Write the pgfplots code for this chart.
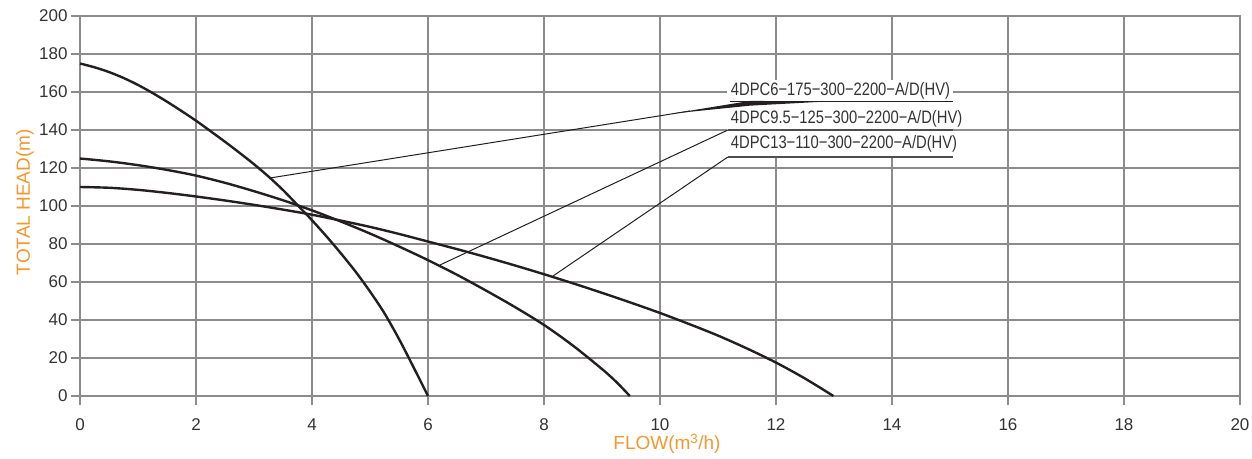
\documentclass[border=0pt]{standalone}
\usepackage{fontspec}
\setmainfont{Liberation Sans}
\newfontfamily\narrowfont[FakeStretch=0.82]{Liberation Sans}
\usepackage{pgfplots}
\pgfplotsset{compat=1.18}
\definecolor{curvec}{RGB}{35,31,32}
\definecolor{gridc}{RGB}{140,140,140}
\definecolor{orangelab}{RGB}{243,152,48}
\definecolor{tickc}{RGB}{51,51,51}
\begin{document}
\begin{tikzpicture}[x=1pt,y=1pt]
\useasboundingbox (0,0) rectangle (1252,458);
\begin{axis}[
  at={(80pt,62pt)}, anchor=south west,
  width=1160pt, height=380pt, scale only axis=true,
  xmin=0, xmax=20, ymin=0, ymax=200,
  xtick={0,2,...,20}, ytick={0,20,...,200},
  grid=major,
  major grid style={draw=gridc, line width=1.3pt},
  axis line style={draw=gridc, line width=1.3pt},
  every tick/.style={draw=gridc, line width=1.3pt},
  tick align=outside, major tick length=9pt,
  xtick pos=bottom, ytick pos=left,
  ticklabel style={font=\fontsize{17}{20}\selectfont, text=tickc},
  xticklabel style={yshift=-10pt},
  /pgf/number format/assume math mode=true,
  xlabel={FLOW(m\textsuperscript{3}/h)},
  ylabel={TOTAL HEAD(m)},
  xlabel style={font=\fontsize{19}{22}\selectfont, text=orangelab, at={(axis description cs:0.506,-0.126)}, anchor=center},
  ylabel style={font=\fontsize{19}{22}\selectfont, text=orangelab, at={(axis description cs:-0.0474,0.51)}, anchor=center},
  clip=false,
]
% pump curves
\addplot[draw=curvec, line width=2.4pt, smooth] coordinates {
 (0,175) (0.25,173.0) (0.5,170.5) (0.75,167.4) (1,163.7) (1.25,159.5) (1.5,154.9) (1.75,150.0)
 (2,144.9) (2.25,139.4) (2.5,133.8) (2.75,128.0) (3,122.0) (3.25,115.5) (3.5,108.4) (3.75,100.5)
 (4,92.5) (4.25,84.0) (4.5,75.0) (4.75,65.5) (5,55.0) (5.25,43.5) (5.5,30.0) (5.75,15.2) (6,0)};
\addplot[draw=curvec, line width=2.4pt, smooth] coordinates {
 (0,125) (0.5,123.5) (1,121.5) (1.5,119) (2,116) (2.5,112.2) (3,107.8) (3.5,103) (4,97.7)
 (4.5,91.8) (5,85.5) (5.5,78.7) (6,71.5) (6.5,63.8) (7,55.5) (7.5,46.8) (8,37.4) (8.5,26.5)
 (9,14.2) (9.25,7.3) (9.48,0)};
\addplot[draw=curvec, line width=2.4pt, smooth] coordinates {
 (0,110) (0.5,109.6) (1,108.5) (1.5,106.9) (2,105) (2.5,102.9) (3,100.6) (3.5,98.1) (4,95.4)
 (4.5,92.3) (5,89) (5.5,85.3) (6,81.3) (6.5,77.3) (7,73.1) (7.5,68.7) (8,64.1) (8.5,59.3)
 (9,54.3) (9.5,49.1) (10,43.7) (10.5,37.9) (11,31.8) (11.5,25.0) (12,17.6) (12.5,9.2) (12.99,0)};
% label block background
\fill[white] (axis cs:11.155,166.3) rectangle (axis cs:15.05,125.8);
% underlines
\draw[curvec, line width=1.3pt] (axis cs:11.2,155.0) -- (axis cs:15.05,155.0);
\draw[curvec!80, line width=1.3pt] (axis cs:11.17,140.0) -- (axis cs:15.05,140.0);
\draw[curvec!80, line width=1.3pt] (axis cs:11.17,125.8) -- (axis cs:15.05,125.8);
% leaders
\draw[curvec, line width=1pt] (axis cs:3.276,114.74) -- (axis cs:10.517,150.0);
\fill[curvec] (axis cs:10.2,148.6) -- (axis cs:11.55,155.3) -- (axis cs:12.93,155.1) -- (axis cs:11.55,152.8) -- cycle;
\draw[curvec, line width=1pt] (axis cs:6.207,68.95) -- (axis cs:11.17,140.0);
\draw[curvec, line width=1pt] (axis cs:8.155,63.16) -- (axis cs:11.17,125.8);
% label texts
\node[anchor=west, inner sep=0pt, text=tickc, font=\narrowfont\fontsize{18}{20}\selectfont] at (axis cs:11.22,160.6) {4DPC6−175−300−2200−A/D(HV)};
\node[anchor=west, inner sep=0pt, text=tickc, font=\narrowfont\fontsize{18}{20}\selectfont] at (axis cs:11.22,146.0) {4DPC9.5−125−300−2200−A/D(HV)};
\node[anchor=west, inner sep=0pt, text=tickc, font=\narrowfont\fontsize{18}{20}\selectfont] at (axis cs:11.22,132.6) {4DPC13−110−300−2200−A/D(HV)};
\end{axis}
\end{tikzpicture}
\end{document}
